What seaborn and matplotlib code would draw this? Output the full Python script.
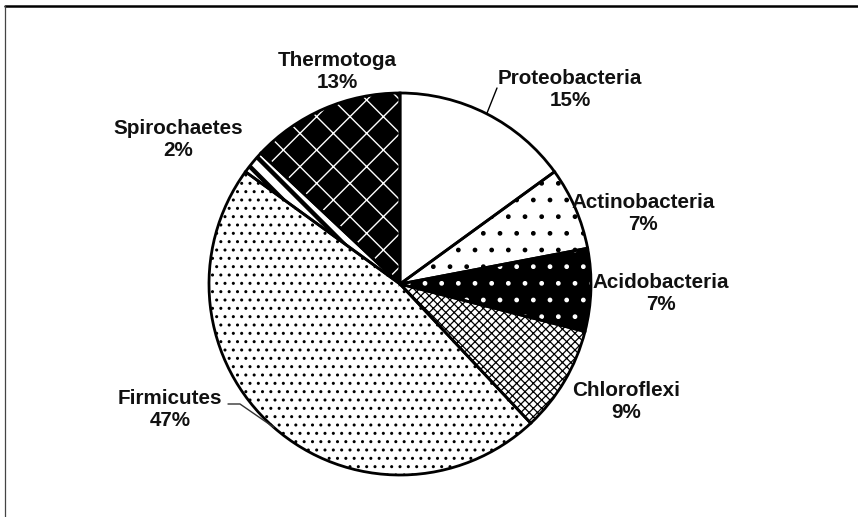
import matplotlib
matplotlib.use("Agg")
import matplotlib.pyplot as plt
import seaborn as sns
import numpy as np

# ---- data ----
phyla = ["Proteobacteria", "Actinobacteria", "Acidobacteria", "Chloroflexi",
         "Firmicutes", "Spirochaetes", "Thermotoga"]
percent = [15, 7, 7, 9, 47, 2, 13]

# ---- styles ----
face_colors = ["white", "white", "black", "white", "white", "white", "black"]
hatch_colors = ["black", "black", "white", "black", "black", "black", "white"]
hatches = [None, ".", ".", "xxxx", "..", "\\\\", "x"]
hatch_lws = [1.0, 1.0, 1.0, 0.9, 1.0, 3.2, 1.0]

sns.set_theme(style="white")
plt.rcParams["font.family"] = ["Liberation Sans", "DejaVu Sans"]
plt.rcParams["hatch.linewidth"] = 1.0

W, H = 858, 517
fig = plt.figure(figsize=(W / 100, H / 100), dpi=100)
ax = fig.add_axes([0, 0, 1, 1])

cx, cy_px, radius = 400, 284, 191
center = (cx, H - cy_px)

# filled + hatched wedges
wedges, _ = ax.pie(percent, startangle=90, counterclock=False, center=center,
                   radius=radius, colors=face_colors,
                   wedgeprops=dict(linewidth=0))
for w, h, hc, hlw in zip(wedges, hatches, hatch_colors, hatch_lws):
    w.set_edgecolor(hc)
    w.set_linewidth(0)
    if h:
        w.set_hatch(h)
        if hasattr(w, "set_hatch_linewidth"):
            w.set_hatch_linewidth(hlw)

# outlines
outl, _ = ax.pie(percent, startangle=90, counterclock=False, center=center,
                 radius=radius, colors=["none"] * len(percent),
                 wedgeprops=dict(facecolor="none", edgecolor="black", linewidth=2))

ax.set_xlim(0, W)
ax.set_ylim(0, H)
ax.set_aspect("equal")
ax.axis("off")

# label positions (pixel coords, centre of 2-line block)
label_pos = {
    "Proteobacteria": (570, 89),
    "Actinobacteria": (643, 213),
    "Acidobacteria": (661, 294),
    "Chloroflexi": (626, 401),
    "Firmicutes": (170, 410),
    "Spirochaetes": (178, 139),
    "Thermotoga": (337, 71),
}
for name, p in zip(phyla, percent):
    x, y = label_pos[name]
    ax.text(x, H - y, f"{name}\n{p}%", ha="center", va="center",
            multialignment="center", fontsize=14.9, fontweight="bold",
            color="#111111", linespacing=1.2)

# leader lines, ending at the wedge edge midpoint
def edge_point(w):
    ang = np.deg2rad((w.theta1 + w.theta2) / 2)
    return cx + radius * np.cos(ang), center[1] + radius * np.sin(ang)

ex, ey = edge_point(wedges[0])
ax.plot([497, ex], [H - 88, ey], color="black", lw=1)
ex, ey = edge_point(wedges[4])
ax.plot([228, 240, ex], [H - 404, H - 404, ey], color="#333333", lw=1)

# frame of the original image
ax.plot([5, W + 5], [H - 6, H - 6], color="black", lw=1.8, clip_on=False)
ax.plot([5, 5], [H - 6, -5], color="#444444", lw=0.9, clip_on=False)

fig.savefig("out.png", dpi=100)
